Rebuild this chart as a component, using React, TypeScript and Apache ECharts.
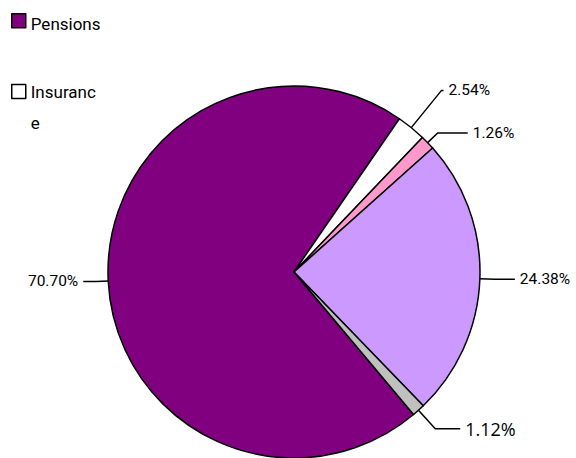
import React, { useEffect, useRef } from "react";
import * as echarts from "echarts";

const categories = ["Pensions", "Insurance", "Investment funds", "Banks", "Other"];
const values = [70.7, 2.54, 1.26, 24.38, 1.12];
const colors = ["#800080", "#FFFFFF", "#FF99CC", "#CC99FF", "#C0C0C0"];
const labelLengths = [12, 48, 14, 15, 25];
const labelLengths2 = [13, 2, 30, 20, 25];
const labelFonts = ["Roboto", "Roboto", "Roboto", "Roboto", "'Open Sans', 'Noto Sans', sans-serif"];
const labelSizes = [15.5, 15.5, 15.5, 15.5, 18];

const narrow = "Roboto, 'Liberation Sans', sans-serif";

export default function App() {
  const ref = useRef<HTMLDivElement>(null);
  useEffect(() => {
    if (!ref.current) return;
    const chart = echarts.init(ref.current, undefined, { renderer: "svg" });
    const data = categories.map((name, i) => ({
      name,
      value: values[i],
      itemStyle: { color: colors[i] },
      label: { fontFamily: labelFonts[i], fontSize: labelSizes[i] },
      labelLine: { length: labelLengths[i], length2: labelLengths2[i] },
    }));
    const rich = { a: { fontFamily: narrow, fontSize: 17, color: "#000", lineHeight: 31 } };
    chart.setOption({
      animation: false,
      backgroundColor: "#ffffff",
      legend: [
        {
          data: ["Pensions"],
          orient: "vertical",
          left: 11,
          top: 13,
          padding: 0,
          itemWidth: 14,
          itemHeight: 14,
          icon: "rect",
          itemStyle: { borderColor: "#000", borderWidth: 1.5 },
          formatter: (name: string) => "{a|" + name + "}",
          textStyle: { fontFamily: narrow, fontSize: 17, color: "#000", padding: [6, 0, 0, 0], rich },
        },
        {
          data: ["Insurance"],
          orient: "vertical",
          left: 11,
          top: 83,
          padding: 0,
          itemWidth: 14,
          itemHeight: 14,
          icon: "rect",
          itemStyle: { borderColor: "#000", borderWidth: 1.5 },
          formatter: (name: string) => (name === "Insurance" ? "{a|Insuranc}\n{a|e}" : "{a|" + name + "}"),
          textStyle: { fontFamily: narrow, fontSize: 17, color: "#000", padding: [31, 0, 0, 0], rich },
        },
      ],
      series: [
        {
          type: "pie",
          center: [294, 272],
          radius: 186,
          startAngle: 310,
          clockwise: true,
          avoidLabelOverlap: false,
          itemStyle: { borderColor: "#000", borderWidth: 1.5 },
          label: {
            show: true,
            position: "outside",
            formatter: (p: any) => p.value.toFixed(2) + "%",
            fontSize: 15.5,
            color: "#000",
            fontFamily: narrow,
          },
          labelLine: { show: true, lineStyle: { color: "#000", width: 1.5 } },
          emphasis: { disabled: true },
          data,
        },
      ],
    });
    return () => chart.dispose();
  }, []);
  return (
    <div
      ref={ref}
      style={{ position: "fixed", left: 0, top: 0, width: 576, height: 458, background: "#fff" }}
    />
  );
}
